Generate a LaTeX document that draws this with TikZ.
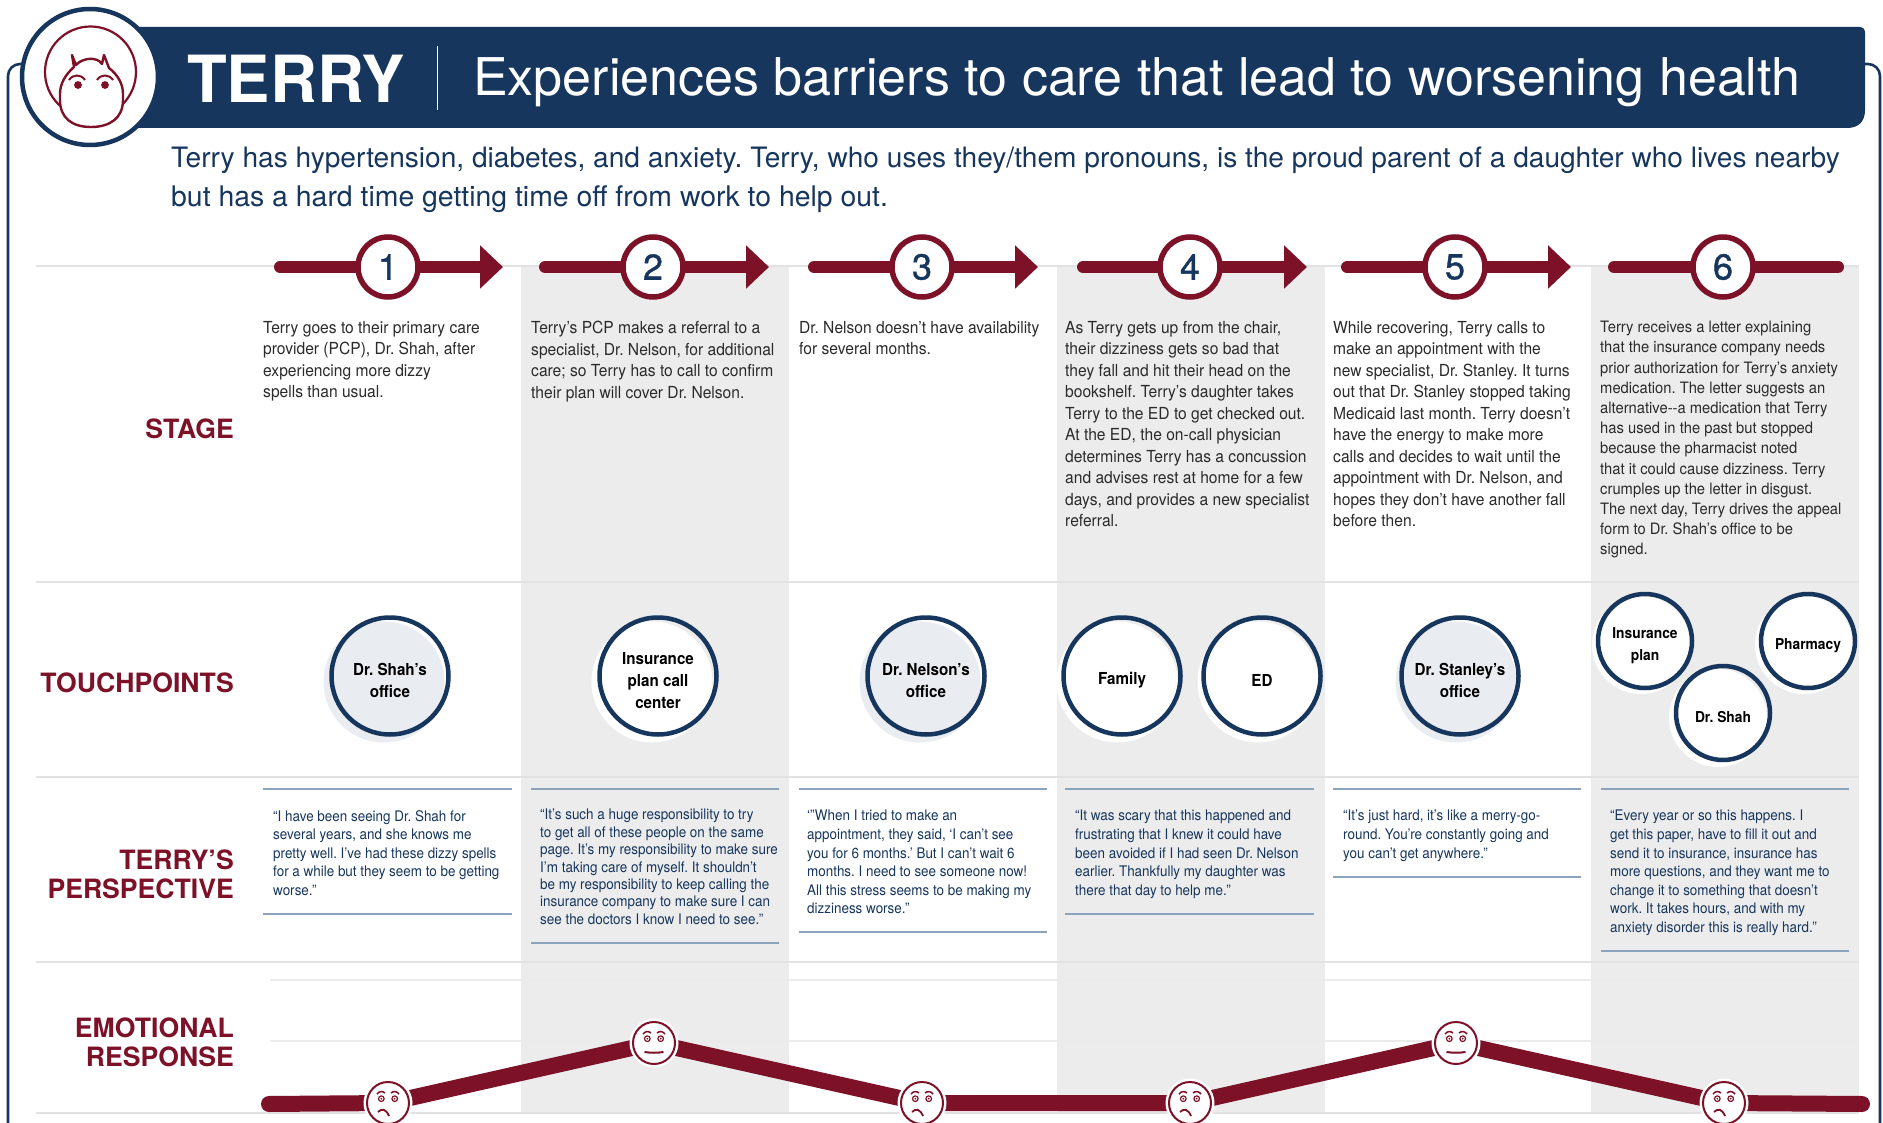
\documentclass[tikz,border=0pt]{standalone}
\usepackage{fontspec}
\setmainfont{TeX Gyre Heros}
\newfontfamily\cond[FakeStretch=.94]{TeX Gyre Heros}
\newfontfamily\condq[FakeStretch=.92]{TeX Gyre Heros}
\newfontfamily\numfont[FakeBold=1]{TeX Gyre Heros}
\usetikzlibrary{arrows.meta}
\definecolor{navy}{HTML}{17365D}
\definecolor{maroon}{HTML}{7D1128}
\definecolor{band}{HTML}{ECECEC}
\definecolor{rulec}{HTML}{E2E2E2}
\definecolor{qrule}{HTML}{8CA3BE}
\definecolor{shadec}{HTML}{E9ECF0}
\definecolor{bodyc}{HTML}{2B2B2B}
\newcommand{\fs}[2]{\fontsize{#1}{#2}\selectfont}
\tikzset{
 x=1pt,y=-1pt,
 gridline/.style={draw=rulec,line width=1.6pt},
 thinline/.style={draw=rulec!70,line width=1.2pt},
 qline/.style={draw=qrule,line width=1.4pt},
 arrowline/.style={draw=maroon,line width=12pt,line cap=round,-{Triangle[length=23pt,width=42pt]}},
 plainline/.style={draw=maroon,line width=12pt,line cap=round},
 numc/.style={circle,draw=maroon,line width=5.5pt,fill=white,minimum size=60pt,inner sep=0pt,text=navy,font=\numfont\fs{36}{36}},
 stagetxt/.style={anchor=north west,align=left,inner sep=0pt,text=bodyc,font=\cond\frenchspacing\fs{16.6}{21.5}},
 stagesm/.style={stagetxt,font=\cond\frenchspacing\fs{15.7}{20.2}},
 quotetxt/.style={anchor=north west,align=left,inner sep=0pt,text=navy,font=\condq\frenchspacing\fs{14.6}{18.6}},
 quotetight/.style={quotetxt,font=\condq\frenchspacing\fs{14.6}{17.4}},
 rowlabel/.style={anchor=east,align=right,inner sep=0pt,text=maroon,font=\fs{26.6}{29}\bfseries},
 ringtxt/.style={align=center,inner sep=0pt,text=black,yshift=-4.5pt,font=\condq\frenchspacing\fs{16.5}{22}\bfseries},
 ringsm/.style={ringtxt,font=\condq\frenchspacing\fs{15}{22}\bfseries},
 bigring/.style={circle,draw=navy,line width=4.5pt,inner sep=0pt,minimum size=117pt},
 smallring/.style={circle,draw=navy,line width=4.5pt,inner sep=0pt,minimum size=94pt},
 facec/.style={circle,draw=maroon,line width=2pt,minimum size=42pt,inner sep=0pt},
 facehalo/.style={circle,fill=white,minimum size=49pt,inner sep=0pt},
 facedet/.style={draw=maroon,line width=1.5pt},
 emoline/.style={draw=maroon,line width=16pt},
}
\newcommand{\browseyes}[2]{%
 \draw[facedet] (#1-11,#2-9) .. controls (#1-9,#2-12) and (#1-5,#2-12) .. (#1-3,#2-10);
 \draw[facedet] (#1+3,#2-10) .. controls (#1+5,#2-12) and (#1+9,#2-12) .. (#1+11,#2-9);
 \draw[facedet,line width=1.2pt] (#1-6.7,#2-4.3) circle (2.8);
 \draw[facedet,line width=1.2pt] (#1+6.7,#2-4.3) circle (2.8);
 \fill[maroon] (#1-6.7,#2-4.3) circle (1);
 \fill[maroon] (#1+6.7,#2-4.3) circle (1);}
\newcommand{\sadmouth}[2]{\draw[facedet,line width=1.8pt] (#1-10,#2+9) .. controls (#1-6,#2+5) and (#1-2,#2+6) .. (#1+1,#2+13);}
\newcommand{\flatmouth}[2]{\draw[facedet,line width=2pt] (#1-9.5,#2+9) .. controls (#1-3,#2+10) and (#1+3,#2+10) .. (#1+9.5,#2+9);}
\begin{document}
\begin{tikzpicture}
\useasboundingbox (0,0) rectangle (1883,1123);
\fill[white] (0,0) rectangle (1883,1123);
% bands
\foreach \a/\b in {521/789,1057/1325,1591/1859}{\fill[band] (\a,266) rectangle (\b,1113);}
% frame
\draw[navy,line width=2.6pt,rounded corners=12pt] (100,64) -- (8,64) -- (8,1135) -- (1880,1135) -- (1880,64) -- (1800,64);
% grid lines
\foreach \y in {266,582,777,962,1113}{\draw[gridline] (36,\y) -- (1859,\y);}
\foreach \y in {980,1041}{\draw[thinline] (270,\y) -- (1859,\y);}
% banner
\fill[navy] (85,27) -- (1859,27) .. controls (1863,27) and (1865,29) .. (1865,33) -- (1865,110) .. controls (1865,122) and (1858,128) .. (1847,128) -- (85,128) -- cycle;
\node[anchor=west,inner sep=0pt,text=white,font=\fs{65}{65}\bfseries] (title) at (187,79) {TERRY};
\draw[white,line width=1pt] (437,46) -- (437,110);
\node[anchor=west,inner sep=0pt,text=white,font=\fs{52}{52}] (subtitle) at (473,82) {Experiences barriers to care that lead to worsening health};
% avatar
\draw[navy,line width=4.5pt,fill=white] (90,77) circle (68);
\draw[maroon,line width=2.2pt] (90.5,72) circle (45.5);
\fill[white,draw=maroon,line width=2.4pt,line join=round] (72,55) -- (76,65) .. controls (82,58) and (97,56) .. (102,64) -- (104,55) -- (109,68)
  .. controls (118,75) and (123,84) .. (123,94) -- (123,100) .. controls (123,118) and (110,127) .. (91,127)
  .. controls (72,127) and (60,118) .. (60,100) -- (60,94) .. controls (60,84) and (65,75) .. (74,67) -- cycle;
\fill[maroon] (78,85) circle (3.9);
\fill[maroon] (105,85) circle (3.9);
\draw[maroon,line width=2pt] (69,80) .. controls (73,74) and (81,74) .. (85,80);
\draw[maroon,line width=2pt] (97,80) .. controls (101,74) and (109,74) .. (113,80);
% intro
\node[anchor=north west,align=left,inner sep=0pt,text=navy,font=\frenchspacing\fs{28.1}{38.5}] (intro) at (171,147) {Terry has hypertension, diabetes, and anxiety. Terry, who uses they/them pronouns, is the proud parent of a daughter who lives nearby\\\fs{28.4}{38.5}but has a hard time getting time off from work to help out.};
% row labels
\node[rowlabel] (lstage) at (234,429) {STAGE};
\node[rowlabel] (ltouch) at (234,683) {TOUCHPOINTS};
\node[rowlabel] (lpersp) at (234,874) {TERRY’S\\PERSPECTIVE};
\node[rowlabel] (lemo) at (234,1042) {EMOTIONAL\\RESPONSE};
% stage arrows
\coordinate (s1) at (280,267); \coordinate (t1) at (503,267);
\coordinate (s2) at (545,267); \coordinate (t2) at (769,267);
\coordinate (s3) at (814,267); \coordinate (t3) at (1038,267);
\coordinate (s4) at (1083,267); \coordinate (t4) at (1307,267);
\coordinate (s5) at (1347,267); \coordinate (t5) at (1571,267);
\coordinate (s6) at (1614,267); \coordinate (t6) at (1838,267);
\foreach \i in {1,...,5}{\draw[arrowline] (s\i) -- (t\i);}
\draw[plainline] (s6) -- (t6);
\node[numc] (n1) at (388,267) {1};
\node[numc] (n2) at (653,267) {2};
\node[numc] (n3) at (922,267) {3};
\node[numc] (n4) at (1190,267) {4};
\node[numc] (n5) at (1455,267) {5};
\node[numc] (n6) at (1723,267) {6};
% stage text
\node[stagetxt] (st1) at (263,321) {Terry goes to their primary care\\provider (PCP), Dr. Shah, after\\experiencing more dizzy\\spells than usual.};
\node[stagetxt] (st2) at (531,321) {Terry’s PCP makes a referral to a\\specialist, Dr. Nelson, for additional\\care; so Terry has to call to confirm\\their plan will cover Dr. Nelson.};
\node[stagetxt] (st3) at (799,321) {Dr. Nelson doesn’t have availability\\for several months.};
\node[stagetxt] (st4) at (1065,321) {As Terry gets up from the chair,\\their dizziness gets so bad that\\they fall and hit their head on the\\bookshelf. Terry’s daughter takes\\Terry to the ED to get checked out.\\At the ED, the on-call physician\\determines Terry has a concussion\\and advises rest at home for a few\\days, and provides a new specialist\\referral.};
\node[stagetxt] (st5) at (1333,321) {While recovering, Terry calls to\\make an appointment with the\\new specialist, Dr. Stanley. It turns\\out that Dr. Stanley stopped taking\\Medicaid last month. Terry doesn’t\\have the energy to make more\\calls and decides to wait until the\\appointment with Dr. Nelson, and\\hopes they don’t have another fall\\before then.};
\node[stagesm] (st6) at (1600,321) {Terry receives a letter explaining\\that the insurance company needs\\prior authorization for Terry’s anxiety\\medication. The letter suggests an\\alternative-{}-a medication that Terry\\has used in the past but stopped\\because the pharmacist noted\\that it could cause dizziness. Terry\\crumples up the letter in disgust.\\The next day, Terry drives the appeal\\form to Dr. Shah’s office to be\\signed.};
% touchpoints
\fill[shadec] (384,682) circle (60.5);
\fill[white] (652,682) circle (60.5);
\fill[shadec] (920,682) circle (60.5);
\fill[white] (1117,682) circle (60.5);
\fill[white] (1258,682) circle (60.5);
\fill[shadec] (1456,682) circle (60.5);
\fill[white] (1641,645) circle (49);
\fill[white] (1804,645) circle (49);
\fill[white] (1718,718) circle (49);
\node[bigring,label={[ringtxt]center:{Dr. Shah’s\\office}}] (tp1) at (390,676) {};
\node[bigring,label={[ringtxt]center:{Insurance\\plan call\\center}}] (tp2) at (658,676) {};
\node[bigring,label={[ringtxt]center:{Dr. Nelson’s\\office}}] (tp3) at (926,676) {};
\node[bigring,label={[ringtxt]center:{Family}}] (tp4a) at (1122,676) {};
\node[bigring,label={[ringtxt]center:{ED}}] (tp4b) at (1262,676) {};
\node[bigring,label={[ringtxt]center:{Dr. Stanley’s\\office}}] (tp5) at (1460,676) {};
\node[smallring,label={[ringsm]center:{Insurance\\plan}}] (tp6a) at (1645,641) {};
\node[smallring,label={[ringsm]center:{Pharmacy}}] (tp6b) at (1808,641) {};
\node[smallring,label={[ringsm]center:{Dr. Shah}}] (tp6c) at (1723,713) {};
% quotes
\foreach \a/\b/\y in {263/512/914,531/779/943,799/1047/932,1065/1314/914,1333/1581/877,1601/1849/951}{
 \draw[qline] (\a,789) -- (\b,789);
 \draw[qline] (\a,\y) -- (\b,\y);}
\node[quotetxt] (q1) at (273,810) {“I have been seeing Dr. Shah for\\several years, and she knows me\\pretty well. I’ve had these dizzy spells\\for a while but they seem to be getting\\worse.”};
\node[quotetight] (q2) at (540,809) {“It’s such a huge responsibility to try\\to get all of these people on the same\\page. It’s my responsibility to make sure\\I’m taking care of myself. It shouldn’t\\be my responsibility to keep calling the\\insurance company to make sure I can\\see the doctors I know I need to see.”};
\node[quotetxt] (q3) at (807,810) {‘”When I tried to make an\\appointment, they said, ‘I can’t see\\you for 6 months.’ But I can’t wait 6\\months. I need to see someone now!\\All this stress seems to be making my\\dizziness worse.”};
\node[quotetxt] (q4) at (1075,810) {“It was scary that this happened and\\frustrating that I knew it could have\\been avoided if I had seen Dr. Nelson\\earlier. Thankfully my daughter was\\there that day to help me.”};
\node[quotetxt] (q5) at (1343,810) {“It’s just hard, it’s like a merry-go-\\round. You’re constantly going and\\you can’t get anywhere.”};
\node[quotetxt] (q6) at (1610,810) {“Every year or so this happens. I\\get this paper, have to fill it out and\\send it to insurance, insurance has\\more questions, and they want me to\\change it to something that doesn’t\\work. It takes hours, and with my\\anxiety disorder this is really hard.”};
% emotional response
\coordinate (e0) at (269,1104);
\coordinate (e7) at (1862,1104);
\coordinate (f1) at (388,1103);
\coordinate (f2) at (654,1043);
\coordinate (f3) at (922,1103);
\coordinate (f4) at (1190,1103);
\coordinate (f5) at (1456,1043);
\coordinate (f6) at (1724,1103);
\draw[emoline,line cap=round] (e0) -- (f1);
\draw[emoline,line join=round] (f1) -- (f2) -- (f3) -- (f4) -- (f5) -- (f6);
\draw[emoline,line cap=round] (f6) -- (e7);
\foreach \i in {1,...,6}{\node[facehalo] at (f\i) {};\node[facec] (face\i) at (f\i) {};}
\browseyes{388}{1103}\sadmouth{388}{1103}
\browseyes{654}{1043}\flatmouth{654}{1043}
\browseyes{922}{1103}\sadmouth{922}{1103}
\browseyes{1190}{1103}\sadmouth{1190}{1103}
\browseyes{1456}{1043}\flatmouth{1456}{1043}
\browseyes{1724}{1103}\sadmouth{1724}{1103}
\end{tikzpicture}
\end{document}
